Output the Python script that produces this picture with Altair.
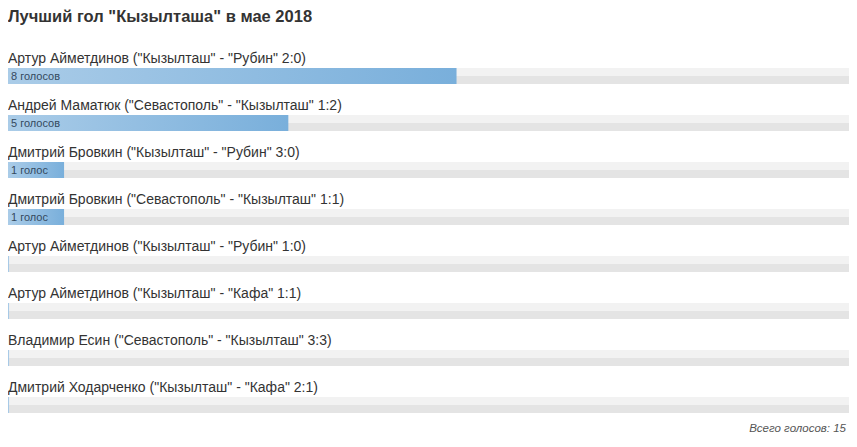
import altair as alt
import pandas as pd

TITLE = 'Лучший гол "Кызылташа" в мае 2018'
players = [
    'Артур Айметдинов ("Кызылташ" - "Рубин" 2:0)',
    'Андрей Маматюк ("Севастополь" - "Кызылташ" 1:2)',
    'Дмитрий Бровкин ("Кызылташ" - "Рубин" 3:0)',
    'Дмитрий Бровкин ("Севастополь" - "Кызылташ" 1:1)',
    'Артур Айметдинов ("Кызылташ" - "Рубин" 1:0)',
    'Артур Айметдинов ("Кызылташ" - "Кафа" 1:1)',
    'Владимир Есин ("Севастополь" - "Кызылташ" 3:3)',
    'Дмитрий Ходарченко ("Кызылташ" - "Кафа" 2:1)',
]
votes = [8, 5, 1, 1, 0, 0, 0, 0]
total_votes = 15


def vote_word(n):
    if n == 0:
        return ""
    if n % 10 == 1 and n % 100 != 11:
        return f"{n} голос"
    if n % 10 in (2, 3, 4) and n % 100 not in (12, 13, 14):
        return f"{n} голоса"
    return f"{n} голосов"


df = pd.DataFrame({
    "player": players,
    "votes": votes,
    "total": [total_votes] * len(players),
    "label": [vote_word(v) for v in votes],
})

FONT = "Liberation Sans"
W = 841
STEP = 47
H = STEP * len(players)
BAR_H = 16
BAR_OFF = 4.5

y = alt.Y("player:N", sort=players, axis=None,
          scale=alt.Scale(paddingInner=0, paddingOuter=0))
xscale = alt.Scale(domain=[0, total_votes], range=[0, W], nice=False, zero=True)

track_grad = alt.LinearGradient(
    gradient="linear", x1=0, x2=0, y1=0, y2=1,
    stops=[alt.GradientStop(color="#f2f2f2", offset=0),
           alt.GradientStop(color="#f2f2f2", offset=0.5),
           alt.GradientStop(color="#e4e4e4", offset=0.5),
           alt.GradientStop(color="#e4e4e4", offset=1)])
bar_grad = alt.LinearGradient(
    gradient="linear", x1=0, x2=1, y1=0, y2=0,
    stops=[alt.GradientStop(color="#aacce8", offset=0),
           alt.GradientStop(color="#79afdb", offset=1)])

base = alt.Chart(df)

track = base.mark_bar(height=BAR_H, yOffset=BAR_OFF, color=track_grad, cornerRadius=0).encode(
    x=alt.X("zero:Q", scale=xscale, axis=None),
    x2="total:Q",
    y=y,
).transform_calculate(zero="0")

tick = base.mark_tick(orient="vertical", size=BAR_H, thickness=1, yOffset=BAR_OFF,
                      color="#a3c7e6", opacity=1).encode(
    x=alt.X("zero:Q", scale=xscale, axis=None),
    y=y,
).transform_calculate(zero="0.01")

bars = base.mark_bar(height=BAR_H, yOffset=BAR_OFF, color=bar_grad).encode(
    x=alt.X("votes:Q", scale=xscale, axis=None),
    y=y,
)

vote_text = base.mark_text(align="left", baseline="middle", dx=3, yOffset=BAR_OFF + 0.5,
                           font=FONT, fontSize=11, color="#34495e").encode(
    x=alt.value(0),
    y=y,
    text="label:N",
)

names = base.mark_text(align="left", baseline="alphabetic", yOffset=-8.5,
                       font=FONT, fontSize=14, color="#333333").encode(
    x=alt.value(0),
    y=y,
    text="player:N",
)

footer = alt.Chart(pd.DataFrame({"t": [f"Всего голосов: {total_votes}"]})).mark_text(
    align="right", baseline="alphabetic", font=FONT, fontSize=11.5,
    fontStyle="italic", color="#555555").encode(
    x=alt.value(W - 3),
    y=alt.value(H + 8),
    text="t:N",
)

chart = alt.layer(track, tick, bars, vote_text, names, footer).properties(
    width=W,
    height=H,
    title=alt.TitleParams(TITLE, anchor="start", font=FONT, fontSize=16.5,
                          fontWeight="bold", color="#333333", offset=23),
    autosize=alt.AutoSizeParams(type="none"),
    padding={"left": 0, "top": 40, "right": 0, "bottom": 10},
).configure_view(stroke=None)

chart.save("out.html", embed_options={"renderer": "svg", "actions": False})
